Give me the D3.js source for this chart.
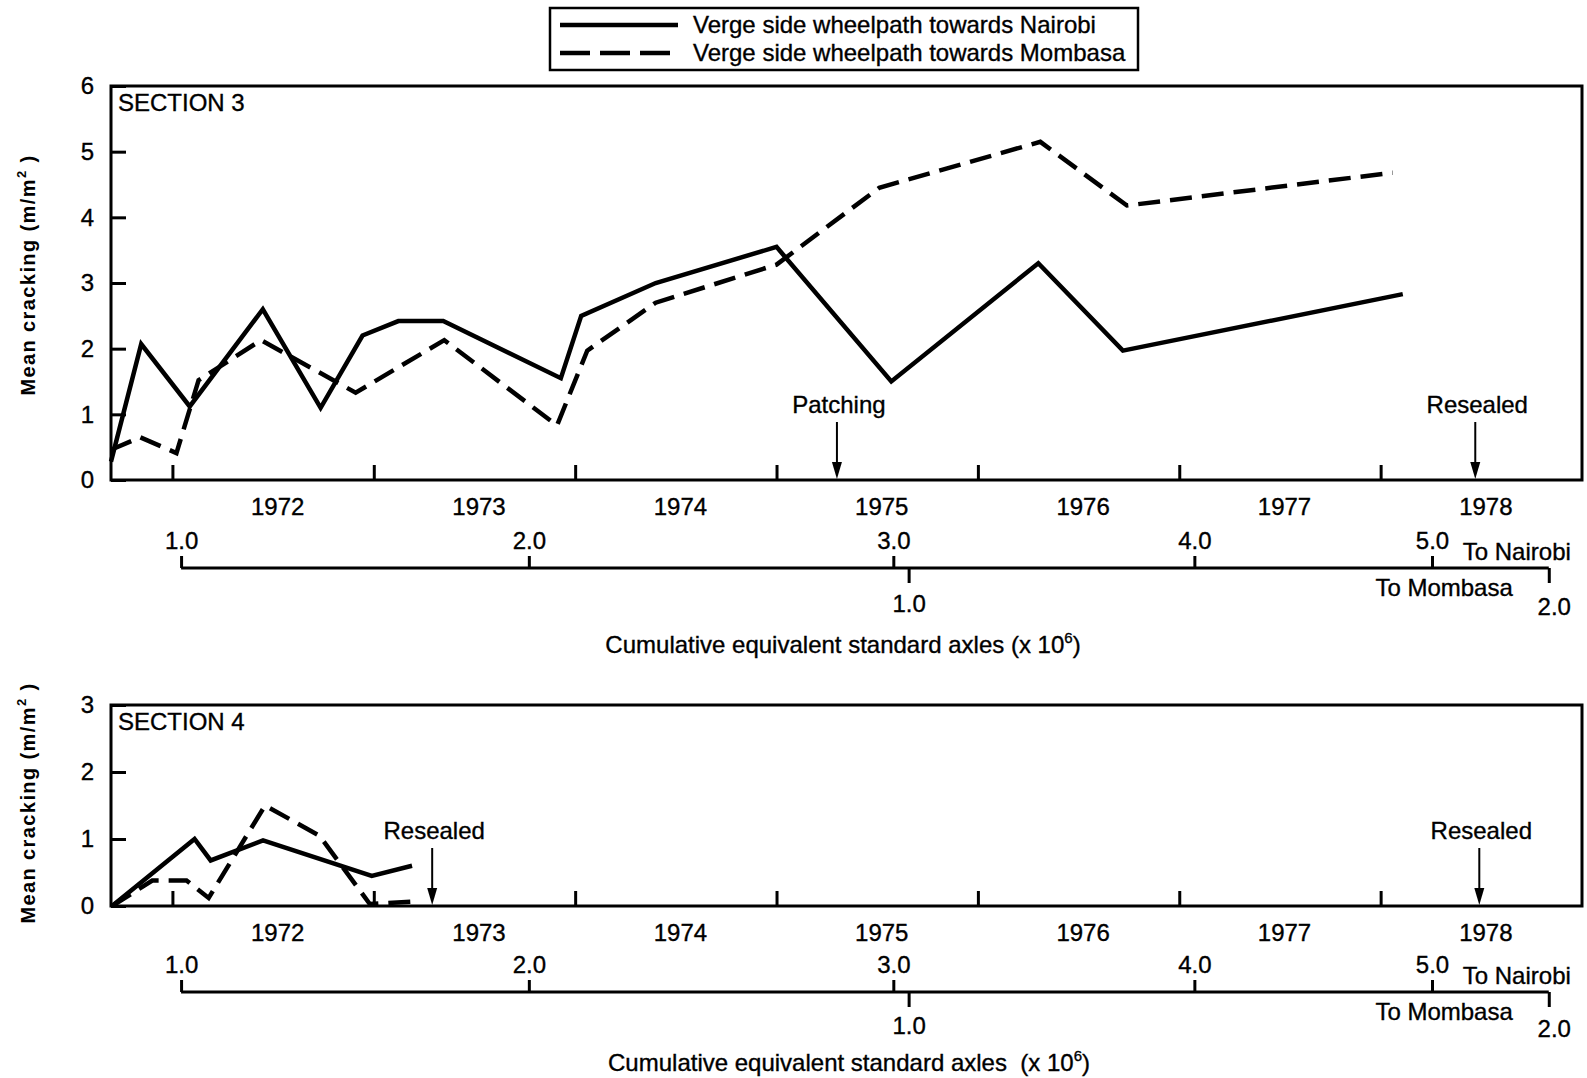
<!DOCTYPE html>
<html>
<head>
<meta charset="utf-8">
<script src="https://cdn.jsdelivr.net/npm/d3@7"></script>
<style>
  body { margin: 0; background: #fff; }
  svg { display: block; }
  text { font-family: "Liberation Sans", Arial, sans-serif; fill: #000; stroke: #000; stroke-width: 0.35px; }
</style>
</head>
<body>
<div id="chart"></div>
<script>
// Data (x in decimal years, y in m/m2)
const yearTicks = [1972, 1973, 1974, 1975, 1976, 1977, 1978];

const s3NairobiYear = [1971.695, 1971.845, 1972.086, 1972.449, 1972.736, 1972.944, 1973.122, 1973.345, 1973.929, 1974.03, 1974.40, 1975.0, 1975.57, 1976.30, 1976.72, 1978.11];
const s3NairobiCrack = [0.28, 2.07, 1.12, 2.6, 1.1, 2.2, 2.42, 2.42, 1.55, 2.5, 3.0, 3.55, 1.5, 3.3, 1.97, 2.83];

const s3MombasaYear = [1971.695, 1971.84, 1972.02, 1972.13, 1972.44, 1972.91, 1973.35, 1973.91, 1974.06, 1974.40, 1975.0, 1975.51, 1976.31, 1976.74, 1978.06];
const s3MombasaCrack = [0.46, 0.65, 0.41, 1.52, 2.13, 1.33, 2.13, 0.83, 1.97, 2.7, 3.28, 4.45, 5.15, 4.18, 4.68];

const s4NairobiYear = [1971.70, 1972.11, 1972.19, 1972.45, 1972.99, 1973.19];
const s4NairobiCrack = [0.0, 1.0, 0.68, 0.98, 0.45, 0.6];

const s4MombasaYear = [1971.70, 1971.90, 1972.07, 1972.18, 1972.46, 1972.73, 1972.98, 1973.22];
const s4MombasaCrack = [0.0, 0.38, 0.38, 0.12, 1.5, 1.05, 0.03, 0.07];

// cumulative equivalent standard axles (x 10^6) against the time axis
const esaNairobiTicks = [1.0, 2.0, 3.0, 4.0, 5.0];
const esaNairobiAt = [1972.043, 1973.77, 1975.58, 1977.075, 1978.255];
const esaMombasaTicks = [1.0, 2.0];
const esaMombasaAt = [1975.656, 1978.835];

const s3Events = [{ label: "Patching", year: 1975.30 }, { label: "Resealed", year: 1978.47 }];
const s4Events = [{ label: "Resealed", year: 1973.29 }, { label: "Resealed", year: 1978.49 }];

const legendLabels = ["Verge side wheelpath towards Nairobi", "Verge side wheelpath towards Mombasa"];

const width = 1587;
const height = 1078;
const FS = 24;

const svg = d3.select("#chart")
    .append("svg")
    .attr("width", width)
    .attr("height", height);

const x = d3.scaleLinear().domain([1971.695, 1979.0]).range([111, 1582]);

function drawPanel(opts) {
    const y = d3.scaleLinear().domain([0, opts.yMax]).range([opts.bottom, opts.top]);
    const g = svg.append("g");

    // frame
    g.append("rect")
        .attr("x", x.range()[0])
        .attr("y", opts.top)
        .attr("width", x.range()[1] - x.range()[0])
        .attr("height", opts.bottom - opts.top)
        .attr("fill", "none")
        .attr("stroke", "#000")
        .attr("stroke-width", 3);

    // y axis, ticks pointing inward
    const yAxis = g.append("g")
        .attr("transform", `translate(${x.range()[0]},0)`)
        .call(d3.axisLeft(y).tickValues(d3.range(0, opts.yMax + 1)).tickSizeInner(-15).tickSizeOuter(0).tickPadding(17).tickFormat(d3.format("d")));
    yAxis.select(".domain").remove();
    yAxis.selectAll("line").attr("stroke-width", 3);
    yAxis.selectAll("text").attr("font-size", 24).attr("font-family", null).attr("fill", null);

    // year ticks inside the frame
    const xTicks = g.append("g")
        .attr("transform", `translate(0,${opts.bottom})`)
        .call(d3.axisBottom(x).tickValues(yearTicks).tickSizeInner(-15).tickSizeOuter(0).tickFormat(""));
    xTicks.select(".domain").remove();
    xTicks.selectAll("line").attr("stroke-width", 3);

    // year labels, centred on each year
    const xLabels = g.append("g")
        .attr("transform", `translate(0,${opts.bottom + 18})`)
        .call(d3.axisBottom(x).tickValues(yearTicks.map(d => d + 0.52)).tickSize(0).tickPadding(0).tickFormat(d => Math.floor(d)));
    xLabels.select(".domain").remove();
    xLabels.selectAll("text").attr("font-size", FS).attr("font-family", null).attr("fill", null);

    // section label
    g.append("text")
        .attr("x", 118)
        .attr("y", opts.top + 25)
        .attr("font-size", FS)
        .text(opts.name);

    // series
    const line = d3.line().x(d => x(d[0])).y(d => y(d[1]));
    g.append("path")
        .datum(d3.zip(opts.nYear, opts.nCrack))
        .attr("d", line)
        .attr("fill", "none")
        .attr("stroke", "#000")
        .attr("stroke-width", 4.5)
        .attr("stroke-linejoin", "miter");
    g.append("path")
        .datum(d3.zip(opts.mYear, opts.mCrack))
        .attr("d", line)
        .attr("fill", "none")
        .attr("stroke", "#000")
        .attr("stroke-width", 4.5)
        .attr("stroke-dasharray", "22,10");

    // event arrows
    opts.events.forEach(ev => {
        const ax = x(ev.year);
        const top = opts.bottom - 58;
        g.append("line")
            .attr("x1", ax).attr("x2", ax)
            .attr("y1", top).attr("y2", opts.bottom - 10)
            .attr("stroke", "#000")
            .attr("stroke-width", 2);
        g.append("path")
            .attr("d", `M${ax - 5},${opts.bottom - 18}L${ax + 5},${opts.bottom - 18}L${ax},${opts.bottom - 1}Z`)
            .attr("fill", "#000");
        g.append("text")
            .attr("x", ax + 2)
            .attr("y", top - 9)
            .attr("text-anchor", "middle")
            .attr("font-size", FS)
            .text(ev.label);
    });

    // cumulative ESA axis
    const esaY = opts.bottom + opts.esaOffset;
    const nScale = d3.scaleLinear().domain(esaNairobiTicks).range(esaNairobiAt.map(x));
    const mScale = d3.scaleLinear().domain(esaMombasaTicks).range(esaMombasaAt.map(x));
    const endX = mScale(2.0);

    g.append("line")
        .attr("x1", nScale(1.0)).attr("x2", endX)
        .attr("y1", esaY).attr("y2", esaY)
        .attr("stroke", "#000")
        .attr("stroke-width", 3);

    const nAxis = g.append("g")
        .attr("transform", `translate(0,${esaY})`)
        .call(d3.axisTop(nScale).tickValues(esaNairobiTicks).tickSizeInner(12).tickSizeOuter(0).tickPadding(7).tickFormat(d3.format(".1f")));
    nAxis.select(".domain").remove();
    nAxis.selectAll("line").attr("stroke-width", 3);
    nAxis.selectAll("text").attr("font-size", FS).attr("font-family", null).attr("fill", null);

    const mAxis = g.append("g")
        .attr("transform", `translate(0,${esaY})`)
        .call(d3.axisBottom(mScale).tickValues(esaMombasaTicks).tickSizeInner(15).tickSizeOuter(0).tickPadding(opts.mPad).tickFormat(d3.format(".1f")));
    mAxis.select(".domain").remove();
    mAxis.selectAll("line").attr("stroke-width", 3);
    mAxis.selectAll("text").attr("font-size", FS).attr("font-family", null).attr("fill", null);
    // the end label sits a little lower and to the right
    mAxis.selectAll("text").filter(d => d === 2.0).attr("dx", 5).attr("dy", "0.85em");

    g.append("text")
        .attr("x", endX - 86)
        .attr("y", esaY - 8)
        .attr("font-size", FS)
        .text("To Nairobi");
    g.append("text")
        .attr("x", endX - 36)
        .attr("y", esaY + 28)
        .attr("text-anchor", "end")
        .attr("font-size", FS)
        .text("To Mombasa");

    // axis titles
    const title = g.append("text")
        .attr("x", opts.titleX)
        .attr("y", opts.bottom + opts.titleOffset)
        .attr("text-anchor", "middle")
        .attr("font-size", FS);
    title.append("tspan").text(opts.titleText);
    title.append("tspan").attr("font-size", 15).attr("dy", -10).text("6");
    title.append("tspan").attr("dy", 10).text(")");

    const ylab = g.append("text")
        .attr("transform", `translate(35,${opts.yLabelY}) rotate(-90)`)
        .attr("text-anchor", "middle")
        .attr("font-size", 20)
        .attr("font-weight", "bold")
        .attr("letter-spacing", 1.4)
        .style("stroke-width", "0px");
    ylab.append("tspan").text("Mean cracking (m/m");
    ylab.append("tspan").attr("font-size", 13).attr("dy", -9).text("2");
    ylab.append("tspan").attr("dy", 9).text(" )");
}

drawPanel({
    name: "SECTION 3", top: 86, bottom: 480, yMax: 6,
    nYear: s3NairobiYear, nCrack: s3NairobiCrack,
    mYear: s3MombasaYear, mCrack: s3MombasaCrack,
    events: s3Events, esaOffset: 88, mPad: 12,
    titleX: 843, titleOffset: 173, titleText: "Cumulative equivalent standard axles (x 10",
    yLabelY: 275
});

drawPanel({
    name: "SECTION 4", top: 705, bottom: 906, yMax: 3,
    nYear: s4NairobiYear, nCrack: s4NairobiCrack,
    mYear: s4MombasaYear, mCrack: s4MombasaCrack,
    events: s4Events, esaOffset: 86, mPad: 10,
    titleX: 849, titleOffset: 165, titleText: "Cumulative equivalent standard axles\u00a0 (x 10",
    yLabelY: 803
});

// legend
const legend = svg.append("g");
legend.append("rect")
    .attr("x", 550).attr("y", 8)
    .attr("width", 588).attr("height", 62)
    .attr("fill", "none")
    .attr("stroke", "#000")
    .attr("stroke-width", 2.5);
legendLabels.forEach((label, i) => {
    const ly = 25 + i * 28;
    legend.append("line")
        .attr("x1", 560).attr("x2", 678)
        .attr("y1", ly).attr("y2", ly)
        .attr("stroke", "#000")
        .attr("stroke-width", 4.5)
        .attr("stroke-dasharray", i === 0 ? null : "30,10");
    legend.append("text")
        .attr("x", 693)
        .attr("y", ly + 8)
        .attr("font-size", FS)
        .text(label);
});
</script>
</body>
</html>
